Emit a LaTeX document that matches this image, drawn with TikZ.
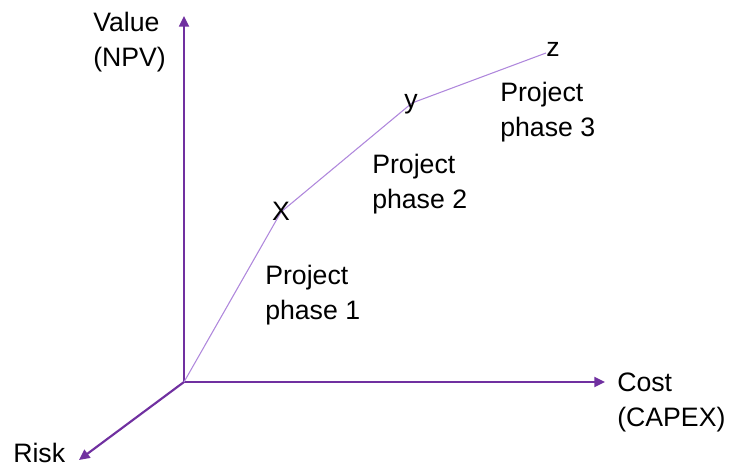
\documentclass[tikz,border=0pt]{standalone}
\usepackage{fontspec}
\setmainfont{Liberation Sans}
\usepackage{tikz}
\usetikzlibrary{arrows.meta}
\usepackage{xcolor}
\definecolor{AxisPurple}{RGB}{112,48,160}
\definecolor{PathLilac}{RGB}{175,135,220}

\begin{document}
\begin{tikzpicture}[x=0.75pt,y=-0.75pt,axis/.style={draw=AxisPurple,line width=1.6pt,-{Triangle[length=2.8mm,width=2.6mm]}},phaseline/.style={draw=PathLilac,line width=0.8pt},txt/.style={inner sep=0pt,align=left,font=\fontsize{20}{26}\selectfont}]
\useasboundingbox (0,0) rectangle (729,470);
% axes
\coordinate (O) at (184,382);
\coordinate (vtop) at (184,16);
\coordinate (cright) at (605,382);
\coordinate (rlow) at (79,460);
\draw[axis](O)--(vtop);
\draw[axis](O)--(cright);
\draw[axis](O)--(rlow);
% project path
\coordinate (pX) at (281,212);
\coordinate (pY) at (412,103);
\coordinate (pZ) at (546,53);
\draw[phaseline](O)--(pX)--(pY)--(pZ);
\node[txt] (X) at (281,211) {X};
\node[txt] (y) at (411,104) {y};
\node[txt] (z) at (553,49) {z};
% labels
\node[txt,anchor=north west] (value) at (93,12) {Value\\(NPV)};
\node[txt,anchor=north west] (cost) at (617,373) {Cost\\(CAPEX)};
\node[txt,anchor=north west] (risk) at (13,443) {Risk};
\node[txt,anchor=north west] (ph1) at (265,265) {Project\\phase 1};
\node[txt,anchor=north west] (ph2) at (372,154) {Project\\phase 2};
\node[txt,anchor=north west] (ph3) at (500,82) {Project\\phase 3};
\end{tikzpicture}
\end{document}
